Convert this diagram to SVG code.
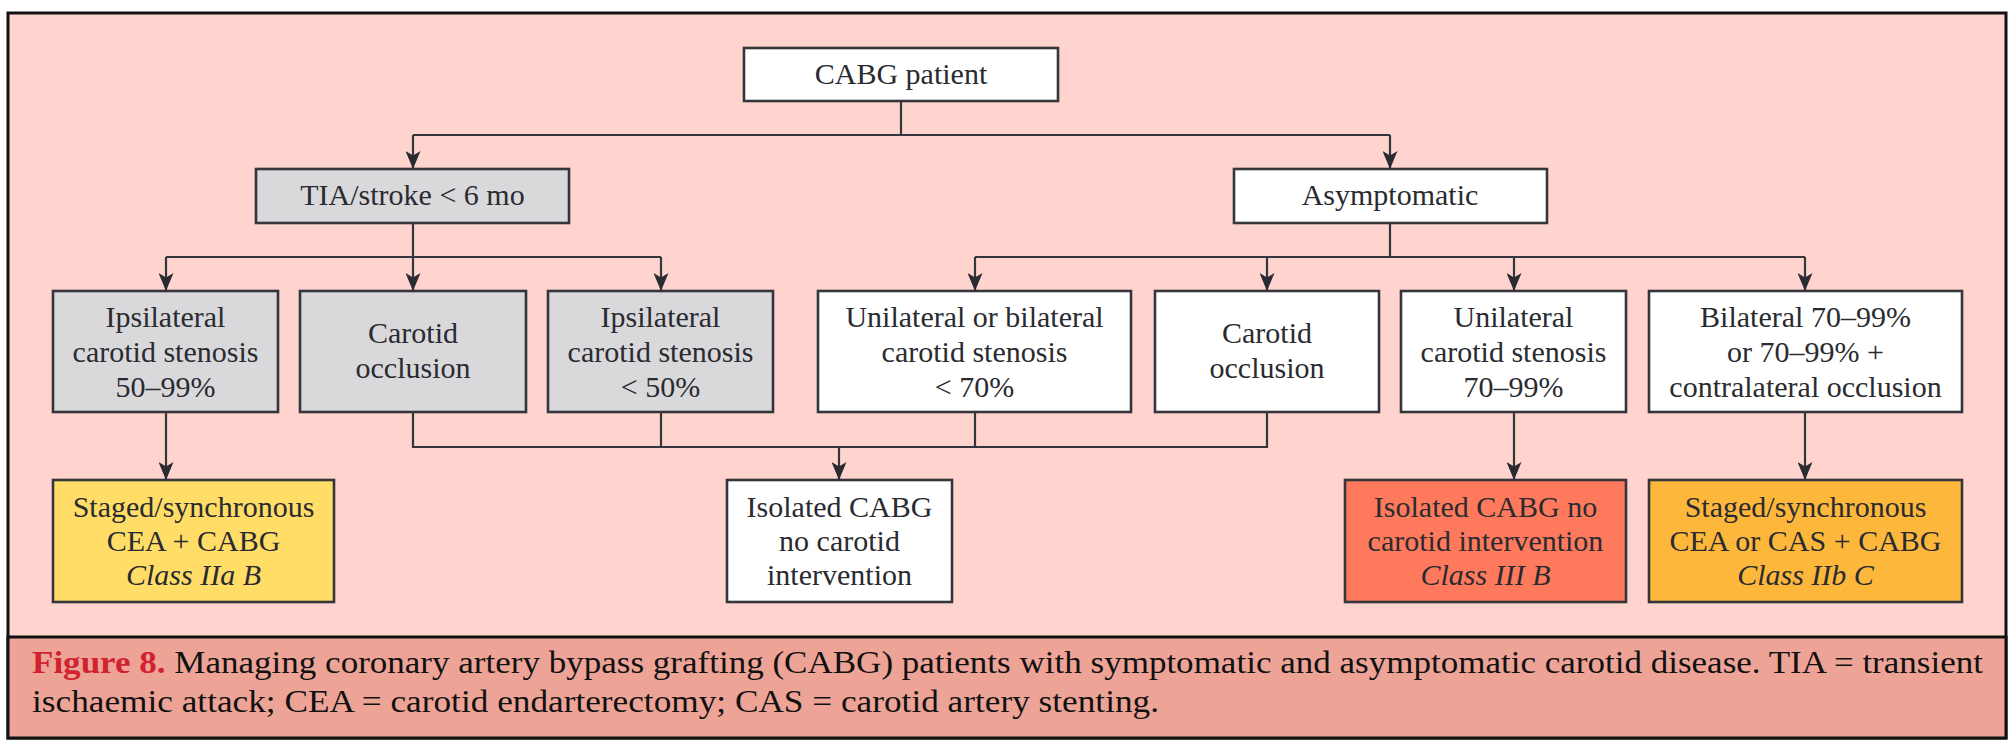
<svg xmlns="http://www.w3.org/2000/svg" width="2016" height="748" viewBox="0 0 2016 748">
<style>
.bx{stroke:#34363c;stroke-width:2.6}
.w{fill:#ffffff}
.g{fill:#d9d9db}
.t{font-family:"Liberation Serif","Times New Roman",serif;font-size:30px;fill:#2a2b30;text-anchor:middle}
.i{font-style:italic}
.c{fill:none;stroke:#34363c;stroke-width:2.2}
.cap{font-family:"Liberation Serif","Times New Roman",serif;font-size:31px;fill:#111111}
</style>
<defs>
<marker id="ah" markerWidth="18" markerHeight="15" refX="18" refY="7.5" orient="auto" markerUnits="userSpaceOnUse" viewBox="0 0 18 15">
<path d="M0,0 L18,7.5 L0,15 L4.5,7.5 Z" fill="#2a2b30"/>
</marker>
</defs>
<rect x="8" y="13" width="1998" height="725" fill="#ffd4ce" stroke="#111" stroke-width="3"/>
<rect x="8" y="637" width="1998" height="101" fill="#eea397" stroke="#111" stroke-width="3"/>

<g id="connectors">
<path class="c" d="M901,101 V135"/>
<path class="c" d="M413,135 H1390"/>
<path class="c" d="M413,135 V169" marker-end="url(#ah)"/>
<path class="c" d="M1390,135 V169" marker-end="url(#ah)"/>
<path class="c" d="M413,223 V257"/>
<path class="c" d="M166,257 H661"/>
<path class="c" d="M166,257 V291" marker-end="url(#ah)"/>
<path class="c" d="M413,257 V291" marker-end="url(#ah)"/>
<path class="c" d="M661,257 V291" marker-end="url(#ah)"/>
<path class="c" d="M1390,223 V257"/>
<path class="c" d="M975,257 H1805"/>
<path class="c" d="M975,257 V291" marker-end="url(#ah)"/>
<path class="c" d="M1267,257 V291" marker-end="url(#ah)"/>
<path class="c" d="M1514,257 V291" marker-end="url(#ah)"/>
<path class="c" d="M1805,257 V291" marker-end="url(#ah)"/>
<path class="c" d="M166,412 V480" marker-end="url(#ah)"/>
<path class="c" d="M413,412 V447 H1267 V412"/>
<path class="c" d="M661,412 V447"/>
<path class="c" d="M975,412 V447"/>
<path class="c" d="M839,447 V480" marker-end="url(#ah)"/>
<path class="c" d="M1514,412 V480" marker-end="url(#ah)"/>
<path class="c" d="M1805,412 V480" marker-end="url(#ah)"/>
</g>

<g id="cabg">
<rect class="bx w" x="744" y="48" width="314" height="53"/>
<text class="t" x="901" y="84">CABG patient</text>
</g>
<g id="tia">
<rect class="bx g" x="256" y="169" width="313" height="54"/>
<text class="t" x="412.5" y="205">TIA/stroke &lt; 6 mo</text>
</g>
<g id="asym">
<rect class="bx w" x="1234" y="169" width="313" height="54"/>
<text class="t" x="1390" y="205">Asymptomatic</text>
</g>

<g id="ips5099">
<rect class="bx g" x="53" y="291" width="225" height="121"/>
<text class="t" x="165.5" y="327">Ipsilateral</text>
<text class="t" x="165.5" y="362">carotid stenosis</text>
<text class="t" x="165.5" y="397">50–99%</text>
</g>
<g id="occl1">
<rect class="bx g" x="300" y="291" width="226" height="121"/>
<text class="t" x="413" y="343">Carotid</text>
<text class="t" x="413" y="378">occlusion</text>
</g>
<g id="ips50">
<rect class="bx g" x="548" y="291" width="225" height="121"/>
<text class="t" x="660.5" y="327">Ipsilateral</text>
<text class="t" x="660.5" y="362">carotid stenosis</text>
<text class="t" x="660.5" y="397">&lt; 50%</text>
</g>
<g id="unibi70">
<rect class="bx w" x="818" y="291" width="313" height="121"/>
<text class="t" x="974.5" y="327">Unilateral or bilateral</text>
<text class="t" x="974.5" y="362">carotid stenosis</text>
<text class="t" x="974.5" y="397">&lt; 70%</text>
</g>
<g id="occl2">
<rect class="bx w" x="1155" y="291" width="224" height="121"/>
<text class="t" x="1267" y="343">Carotid</text>
<text class="t" x="1267" y="378">occlusion</text>
</g>
<g id="uni7099">
<rect class="bx w" x="1401" y="291" width="225" height="121"/>
<text class="t" x="1513.5" y="327">Unilateral</text>
<text class="t" x="1513.5" y="362">carotid stenosis</text>
<text class="t" x="1513.5" y="397">70–99%</text>
</g>
<g id="bi7099">
<rect class="bx w" x="1649" y="291" width="313" height="121"/>
<text class="t" x="1805.5" y="327">Bilateral 70–99%</text>
<text class="t" x="1805.5" y="362">or 70–99% +</text>
<text class="t" x="1805.5" y="397">contralateral occlusion</text>
</g>

<g id="r1">
<rect class="bx" fill="#ffdd66" x="53" y="480" width="281" height="122"/>
<text class="t" x="193.5" y="517">Staged/synchronous</text>
<text class="t" x="193.5" y="551">CEA + CABG</text>
<text class="t i" x="193.5" y="585">Class IIa B</text>
</g>
<g id="r2">
<rect class="bx w" x="727" y="480" width="225" height="122"/>
<text class="t" x="839.5" y="517">Isolated CABG</text>
<text class="t" x="839.5" y="551">no carotid</text>
<text class="t" x="839.5" y="585">intervention</text>
</g>
<g id="r3">
<rect class="bx" fill="#ff7a5c" x="1345" y="480" width="281" height="122"/>
<text class="t" x="1485.5" y="517">Isolated CABG no</text>
<text class="t" x="1485.5" y="551">carotid intervention</text>
<text class="t i" x="1485.5" y="585">Class III B</text>
</g>
<g id="r4">
<rect class="bx" fill="#fdb83c" x="1649" y="480" width="313" height="122"/>
<text class="t" x="1805.5" y="517">Staged/synchronous</text>
<text class="t" x="1805.5" y="551">CEA or CAS + CABG</text>
<text class="t i" x="1805.5" y="585">Class IIb C</text>
</g>

<text class="cap" x="32" y="673" textLength="1951" lengthAdjust="spacingAndGlyphs"><tspan fill="#d0232f" font-weight="bold">Figure 8.</tspan> Managing coronary artery bypass grafting (CABG) patients with symptomatic and asymptomatic carotid disease. TIA = transient</text>
<text class="cap" x="32" y="712" textLength="1127" lengthAdjust="spacingAndGlyphs">ischaemic attack; CEA = carotid endarterectomy; CAS = carotid artery stenting.</text>
</svg>
